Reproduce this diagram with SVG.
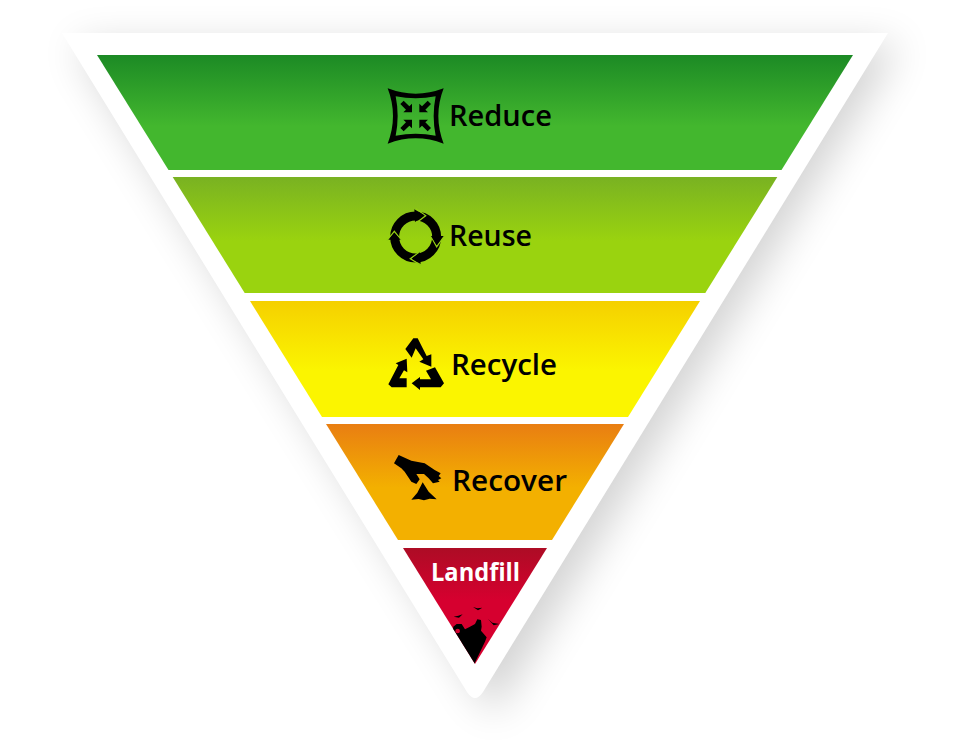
<svg xmlns="http://www.w3.org/2000/svg" width="960" height="740" viewBox="0 0 960 740">
<style>
.t{font-family:"Open Sans","Liberation Sans",sans-serif;font-weight:600;font-size:29px;fill:#000}
.w{font-family:"Open Sans","Liberation Sans",sans-serif;font-weight:700;font-size:24.500px;fill:#fff}
.k{fill:#000}
.z{fill:none;stroke:#93ce12;stroke-width:4}
</style>
<defs>
<filter id="blur" x="-20%" y="-20%" width="140%" height="140%"><feGaussianBlur stdDeviation="20"/></filter>
<linearGradient id="g1" x1="0" y1="0" x2="0" y2="1"><stop offset="0" stop-color="#1c8a25"/><stop offset=".62" stop-color="#43b72e"/></linearGradient>
<linearGradient id="g2" x1="0" y1="0" x2="0" y2="1"><stop offset="0" stop-color="#79b222"/><stop offset=".55" stop-color="#9ad30f"/></linearGradient>
<linearGradient id="g3" x1="0" y1="0" x2="0" y2="1"><stop offset="0" stop-color="#f5d000"/><stop offset=".6" stop-color="#fbf500"/></linearGradient>
<linearGradient id="g4" x1="0" y1="0" x2="0" y2="1"><stop offset="0" stop-color="#e97e12"/><stop offset=".55" stop-color="#f3b000"/></linearGradient>
<linearGradient id="g5" x1="0" y1="0" x2="0" y2="1"><stop offset="0" stop-color="#ad0c25"/><stop offset=".45" stop-color="#d6002f"/></linearGradient>
<clipPath id="tip"><polygon points="403,548 547,548 475,664"/></clipPath>
<g id="inarrow"><path class="k" d="M-11,-11V-37L-19,-29L-36,-46L-46,-36L-29,-19L-37,-11Z"/></g>
</defs>
<g id="backing">
<polygon points="74,44 900,44 494,716" fill="#000" opacity=".17" filter="url(#blur)"/>
<path d="M62,33H888L483,692Q475,704 467,692Z" fill="#fff"/>
</g>
<g id="reduce">
<polygon points="97,55 853,55 781.500,170 168.500,170" fill="url(#g1)"/>
<g transform="translate(385,85) scale(.33333)">
<path class="k" fill-rule="evenodd" d="M8,10Q92,42 176,10Q144,93 176,176Q92,144 8,176Q40,93 8,10ZM32,34Q44,93 32,152Q92,140 152,152Q140,93 152,34Q92,46 32,34Z"/>
<g transform="translate(92,93)">
<use href="#inarrow"/><use href="#inarrow" transform="rotate(90)"/><use href="#inarrow" transform="rotate(180)"/><use href="#inarrow" transform="rotate(270)"/>
</g>
</g>
<text class="t" x="449" y="126" textLength="103" lengthAdjust="spacingAndGlyphs">Reduce</text>
</g>
<g id="reuse">
<polygon points="172.700,177 777.300,177 705.300,293 244.700,293" fill="url(#g2)"/>
<g transform="translate(385,206) scale(.33333)">
<circle cx="92" cy="93" r="63" fill="none" stroke="#000" stroke-width="27"/>
<path class="z" d="M92,52L122,29L92,8M135,86L155,122L179,88M109,178L76,158L107,136M6,104L28,76L50,104"/>
<path class="k" d="M88,10L118,28L90,48ZM138,90L176,90L155,118ZM107,174L80,158L105,139ZM10,101L28,80L47,101Z"/>
</g>
<text class="t" x="449" y="246" textLength="83" lengthAdjust="spacingAndGlyphs">Reuse</text>
</g>
<g id="recycle">
<polygon points="250,301 700,301 628,417 322,417" fill="url(#g3)"/>
<g transform="translate(370,325) scale(.33333)">
<path class="k" d="M106,72L130,40H143L170,93L184,88L184,125L148,110L160,103L137,70L125,98Z"/>
<path class="k" d="M55,178L85,120L77,115L110,101L112,142L102,136L88,160H110V187H65Z"/>
<path class="k" d="M125,175L150,156V163H183L168,137L195,127L222,175L212,187H150V195Z"/>
</g>
<text class="t" x="451" y="375" textLength="106" lengthAdjust="spacingAndGlyphs">Recycle</text>
</g>
<g id="recover">
<polygon points="326,424 624,424 552,540 398,540" fill="url(#g4)"/>
<g transform="translate(388,450) scale(.33333)">
<path class="k" d="M18,40L32,15L70,32L110,40L140,60L158,70L152,78L160,85L150,90L155,95L135,100L122,85L108,72L85,72L95,88L85,102L70,95L50,65L40,55Z"/>
<path class="k" d="M104,97L122,125L146,148L125,146L108,151L92,147L70,149L88,128Z"/>
</g>
<text class="t" x="452" y="491" textLength="115" lengthAdjust="spacingAndGlyphs">Recover</text>
</g>
<g id="landfill">
<polygon points="403,548 547,548 475,664" fill="url(#g5)"/>
<g clip-path="url(#tip)">
<g transform="translate(445,600) scale(.33333)">
<path class="k" fill-rule="evenodd" d="M25,80L35,72L50,72L60,88L75,80L90,72L97,58L108,60L110,80L108,92L125,112L120,125L88,192L15,95L24,88ZM31,93A7,7 0 1 0 45,93A7,7 0 1 0 31,93Z"/>
<path class="k" d="M84,21L97,25L112,23L99,31ZM26,50L40,47L53,43L42,53ZM129,57L142,68L163,72L146,76Z"/>
</g>
</g>
<text class="w" x="431" y="581" textLength="89" lengthAdjust="spacingAndGlyphs">Landfill</text>
</g>
</svg>
